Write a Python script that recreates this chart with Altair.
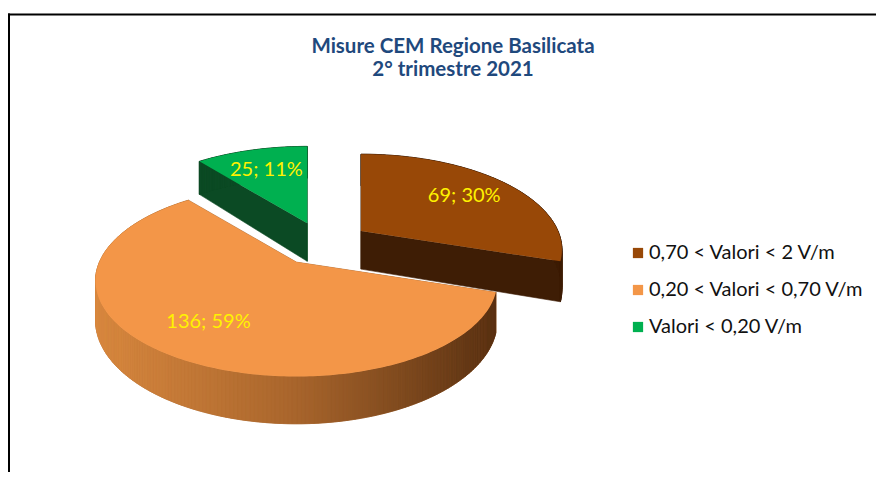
import math
import altair as alt

# ---------------- data ----------------
categories = ["0,70 < Valori < 2 V/m", "0,20 < Valori < 0,70 V/m", "Valori < 0,20 V/m"]
counts = [69, 136, 25]
top_colors = ["#984807", "#F39648", "#00B050"]
side_colors = ["#3E1D05", "#A8652C", "#0B4A24"]
orange_side_stops = ["#D8883F", "#A8652C", "#5A3112"]
title_lines = ["Misure CEM Regione Basilicata", "2° trimestre 2021"]
label_color = "#FFF200"

# ---------------- layout of the pseudo-3D pie ----------------
CX, CY = 315.0, 236.0     # pie centre (view pixels)
R = 197.0                 # radius
T = 92.0 / 197.0          # vertical squash
P = 0.196                 # perspective strength
H = 38.0                  # thickness
EXPLODE = 47.0
LABEL_F = 0.7
STEP = math.radians(1.0)

total = float(sum(counts))


def proj(ax, ay, r, th):
    s = 1.0 / (1.0 + P * (r / R) * math.cos(th))
    return ax + r * math.sin(th) * s, ay - T * r * math.cos(th) * s, s


def hex2rgb(h):
    h = h.lstrip("#")
    return [int(h[i:i + 2], 16) for i in (0, 2, 4)]


def lerp_col(stops, t):
    t = min(max(t, 0.0), 1.0)
    n = len(stops) - 1
    k = min(int(t * n), n - 1)
    u = t * n - k
    a, b = hex2rgb(stops[k]), hex2rgb(stops[k + 1])
    c = [round(a[i] + (b[i] - a[i]) * u) for i in range(3)]
    return "#%02x%02x%02x" % tuple(c)


def feat(ring, **props):
    ring = [[round(p[0], 2), round(p[1], 2)] for p in ring]
    ring.append(ring[0])
    return {"type": "Feature", "geometry": {"type": "Polygon", "coordinates": [ring]},
            "properties": props}


# slice angles (clockwise from 12 o'clock, first slice first)
starts, ends = [], []
acc = 0.0
for c in counts:
    a0 = acc / total * 2 * math.pi
    acc += c
    a1 = acc / total * 2 * math.pi
    starts.append(a0)
    ends.append(a1)

draw_order = [2, 0, 1]  # back to front
side_feats, face_feats, labels = [], [], []
for i in draw_order:
    a0, a1 = starts[i], ends[i]
    mid = (a0 + a1) / 2
    ax = CX + EXPLODE * math.sin(mid)
    ay = CY - EXPLODE * T * math.cos(mid)
    n = max(2, int(math.ceil((a1 - a0) / STEP)))
    angs = [a0 + (a1 - a0) * k / n for k in range(n + 1)]
    tops = [proj(ax, ay, R, a) for a in angs]
    # radial walls
    for a in (a0, a1):
        x, y, s = proj(ax, ay, R, a)
        side_feats.append(feat([(ax, ay), (x, y), (x, y + H * s), (ax, ay + H)],
                               fill=side_colors[i]))
    # underlay for the whole rim (hides seams between strips)
    rim = [(p[0], p[1]) for p in tops] + [(p[0], p[1] + H * p[2]) for p in reversed(tops)]
    side_feats.append(feat(rim, fill=side_colors[i]))
    # outer rim strips, back to front
    strips = []
    for k in range(n):
        x0, y0, s0 = tops[k]
        x1, y1, s1 = tops[k + 1]
        am = (angs[k] + angs[k + 1]) / 2
        if i == 1:
            col = lerp_col(orange_side_stops, ((x0 + x1) / 2 - (ax - R)) / (2 * R))
        else:
            col = side_colors[i]
        strips.append((-math.cos(am),
                       feat([(x0, y0), (x1, y1), (x1, y1 + H * s1), (x0, y0 + H * s0)],
                            fill=col)))
    strips.sort(key=lambda t: t[0])
    side_feats.extend(f for _, f in strips)
    # top face
    ring = [(ax, ay)] + [(p[0], p[1]) for p in tops]
    face_feats.append(feat(ring, cat=categories[i]))
    # label
    lx, ly, _ = proj(ax, ay, R * LABEL_F, mid)
    labels.append({"lx": lx, "ly": ly,
                   "txt": "%d; %d%%" % (counts[i], round(100 * counts[i] / total))})

sides = alt.Chart(alt.Data(values=side_feats)).mark_geoshape(strokeWidth=0.6).encode(
    fill=alt.Fill("properties.fill:N", scale=None),
    stroke=alt.Stroke("properties.fill:N", scale=None),
).project(type="identity", scale=1, translate=[0, 0])

faces = alt.Chart(alt.Data(values=face_feats)).mark_geoshape(strokeWidth=0.6).encode(
    color=alt.Color(
        "properties.cat:N",
        scale=alt.Scale(domain=categories, range=top_colors),
        sort=categories,
        legend=alt.Legend(
            orient="none", legendX=620, legendY=235, title=None,
            symbolType="square", symbolSize=105, symbolStrokeWidth=0,
            labelFont="Lato", labelFontSize=20, labelColor="#111111",
            labelOffset=1, rowPadding=17, padding=0, labelLimit=500,
        ),
    ),
).project(type="identity", scale=1, translate=[0, 0])

label_layer = alt.Chart(alt.Data(values=labels)).mark_text(
    font="Lato", fontSize=20, color=label_color, align="center", baseline="middle"
).encode(
    longitude="lx:Q", latitude="ly:Q", text="txt:N"
).project(type="identity", scale=1, translate=[0, 0])

title_layer = alt.Chart(alt.Data(values=[{"k": 1}])).mark_text(
    text=title_lines, font="Lato", fontSize=20.5, fontWeight="bold", color="#1F497D",
    align="center", baseline="alphabetic", lineHeight=23,
).encode(x=alt.value(445), y=alt.value(45))

one = alt.Data(values=[{"k": 1}])
left_rule = alt.Chart(one).mark_rule(color="#000000", strokeWidth=2).encode(
    x=alt.value(1), y=alt.value(5.5), y2=alt.value(480))
top_rule = alt.Chart(one).mark_rule(color="#000000", strokeWidth=2).encode(
    x=alt.value(0), x2=alt.value(900), y=alt.value(6.5))

chart = alt.layer(sides, faces, label_layer, title_layer, left_rule, top_rule).properties(
    width=868, height=464, padding=0, autosize="none", background="white"
).configure_view(stroke=None)

chart.save("out.html", embed_options={"renderer": "svg", "actions": False})
